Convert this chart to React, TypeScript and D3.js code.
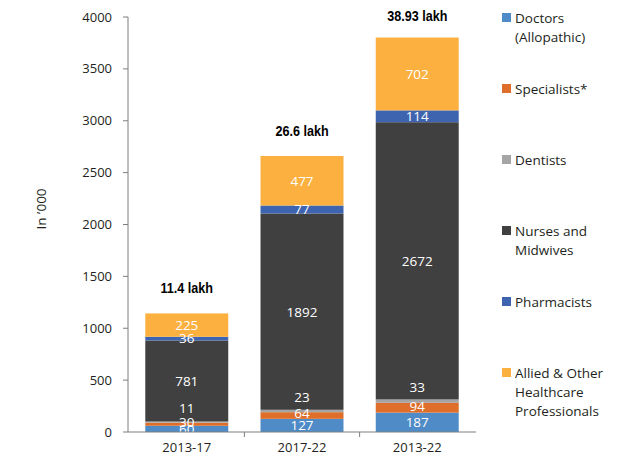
import React from "react";
import * as d3 from "d3";

const categories = ["2013-17", "2017-22", "2013-22"];
const seriesNames = [
  "Doctors (Allopathic)",
  "Specialists*",
  "Dentists",
  "Nurses and Midwives",
  "Pharmacists",
  "Allied & Other Healthcare Professionals",
];
const legendLines = [
  ["Doctors", "(Allopathic)"],
  ["Specialists*"],
  ["Dentists"],
  ["Nurses and", "Midwives"],
  ["Pharmacists"],
  ["Allied & Other", "Healthcare", "Professionals"],
];
const colors = ["#4F8BC6", "#DE6E2A", "#A5A5A5", "#404041", "#3E64AF", "#FBB040"];
const doctors = [60, 127, 187];
const specialists = [30, 64, 94];
const dentists = [11, 23, 33];
const nurses = [781, 1892, 2672];
const pharmacists = [36, 77, 114];
const allied = [225, 477, 702];
const totalLabels = ["11.4 lakh", "26.6 lakh", "38.93 lakh"];
const yTicks = [0, 500, 1000, 1500, 2000, 2500, 3000, 3500, 4000];

const series = [doctors, specialists, dentists, nurses, pharmacists, allied];

export default function App() {
  const width = 631;
  const height = 460;
  const x0 = 128;
  const x1 = 476;
  const y = d3.scaleLinear().domain([0, 4000]).range([432, 17]);
  const x = d3.scaleBand<string>().domain(categories).range([x0, x1]).paddingInner(0.28).paddingOuter(0.15);

  const rows = categories.map((c, i) => {
    const r: any = { cat: c };
    seriesNames.forEach((s, j) => (r[s] = series[j][i]));
    return r;
  });
  const stacked = d3.stack<any>().keys(seriesNames)(rows);
  const font = "'Open Sans', 'DejaVu Sans', sans-serif";
  const topOffsets = [20, 20, 17];

  return (
    <svg width={width} height={height} style={{ position: "absolute", left: 0, top: 0 }}>
      <rect width={width} height={height} fill="#fff" />
      {/* bars */}
      {stacked.map((layer, j) => (
        <g key={j}>
          {layer.map((d, i) => (
            <rect
              key={i}
              x={x(categories[i])}
              y={y(d[1])}
              width={x.bandwidth()}
              height={y(d[0]) - y(d[1])}
              fill={colors[j]}
            />
          ))}
        </g>
      ))}
      {/* segment labels */}
      {stacked.map((layer, j) => (
        <g key={"l" + j}>
          {layer.map((d, i) => {
            let cy = (y(d[0]) + y(d[1])) / 2;
            if (j === 2) cy -= 14;
            if (j === 1) cy -= 2;
            return (
              <text
                key={i}
                x={(x(categories[i]) as number) + x.bandwidth() / 2}
                y={cy}
                dy="0.36em"
                textAnchor="middle"
                fill="#fff"
                fontFamily={font}
                fontSize={13.5}
              >
                {series[j][i]}
              </text>
            );
          })}
        </g>
      ))}
      {/* total labels */}
      {stacked[stacked.length - 1].map((d, i) => {
        const cx = (x(categories[i]) as number) + x.bandwidth() / 2;
        return (
          <text
            key={"t" + i}
            transform={`translate(${cx},${y(d[1]) - topOffsets[i]}) scale(0.9,1)`}
            textAnchor="middle"
            fontFamily="'Liberation Sans', Arial, sans-serif"
            fontWeight="bold"
            fontSize={14}
            fill="#000"
          >
            {totalLabels[i]}
          </text>
        );
      })}
      {/* y axis */}
      <line x1={x0} x2={x0} y1={y(4000)} y2={y(0)} stroke="#7f7f7f" />
      {yTicks.map((t) => (
        <g key={t}>
          <line x1={x0 - 5} x2={x0} y1={y(t)} y2={y(t)} stroke="#7f7f7f" />
          <text
            x={x0 - 16}
            y={y(t)}
            dy="0.35em"
            textAnchor="end"
            fontFamily={font}
            fontSize={13}
            fill="#231f20"
          >
            {t}
          </text>
        </g>
      ))}
      {/* x axis */}
      <line x1={x0} x2={x1} y1={y(0)} y2={y(0)} stroke="#7f7f7f" />
      {categories.map((c, i) => (
        <g key={c}>
          {i > 0 && (
            <line
              x1={(x(c) as number) - (x.step() - x.bandwidth()) / 2}
              x2={(x(c) as number) - (x.step() - x.bandwidth()) / 2}
              y1={y(0)}
              y2={y(0) + 5}
              stroke="#7f7f7f"
            />
          )}
          <text
            x={(x(c) as number) + x.bandwidth() / 2}
            y={452}
            textAnchor="middle"
            fontFamily={font}
            fontSize={13}
            fill="#231f20"
          >
            {c}
          </text>
        </g>
      ))}
      <text
        transform={`translate(46,${y(2150)}) rotate(-90)`}
        textAnchor="middle"
        fontFamily={font}
        fontSize={13.5}
        fill="#231f20"
      >
        In ’000
      </text>
      {/* legend */}
      {legendLines.map((lines, j) => {
        const top = 18 + j * 71;
        return (
          <g key={"g" + j}>
            <rect x={502} y={top - 5} width={9} height={9} fill={colors[j]} />
            {lines.map((ln, k) => (
              <text
                key={k}
                x={515}
                y={top + k * 19}
                dy="0.35em"
                fontFamily={font}
                fontSize={13.5}
                fill="#231f20"
              >
                {ln}
              </text>
            ))}
          </g>
        );
      })}
    </svg>
  );
}
